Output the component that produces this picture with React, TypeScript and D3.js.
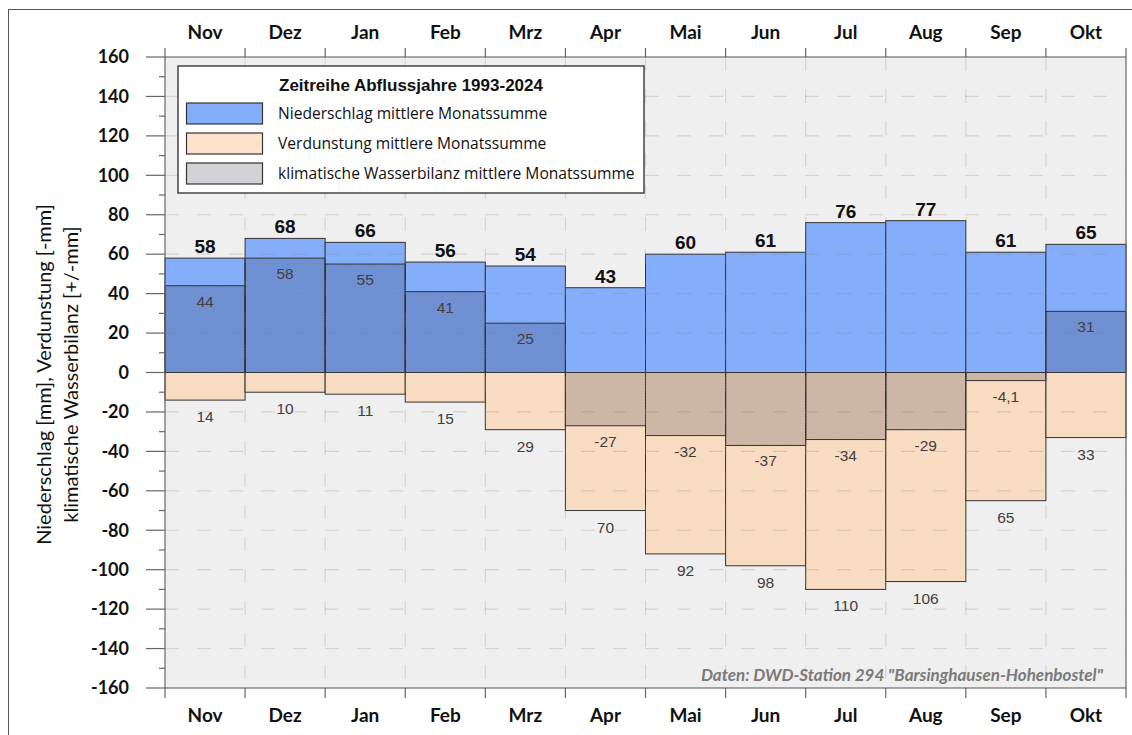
import React from "react";
import * as d3 from "d3";

const months = ["Nov", "Dez", "Jan", "Feb", "Mrz", "Apr", "Mai", "Jun", "Jul", "Aug", "Sep", "Okt"];
const niederschlag = [58, 68, 66, 56, 54, 43, 60, 61, 76, 77, 61, 65];
const verdunstung = [14, 10, 11, 15, 29, 70, 92, 98, 110, 106, 65, 33];
const wasserbilanz = [44, 58, 55, 41, 25, -27, -32, -37, -34, -29, -4.1, 31];
const yTicks = [160, 140, 120, 100, 80, 60, 40, 20, 0, -20, -40, -60, -80, -100, -120, -140, -160];
const legendTitle = "Zeitreihe Abflussjahre 1993-2024";
const legendItems = [
  "Niederschlag mittlere Monatssumme",
  "Verdunstung mittlere Monatssumme",
  "klimatische Wasserbilanz mittlere Monatssumme",
];

const W = 1132;
const H = 735;
const left = 165;
const right = 1126;
const top = 57;
const bottom = 688;

const calibri = "Lato, 'Open Sans', sans-serif";
const arial = "'Liberation Sans', Arial, sans-serif";
const segoe = "'Open Sans', 'Noto Sans', sans-serif";

const fmt = (v: number) => (Number.isInteger(v) ? String(v) : String(v).replace(".", ","));

export default function App() {
  const x = d3.scaleBand<string>().domain(months).range([left, right]).padding(0);
  const y = d3.scaleLinear().domain([-160, 160]).range([bottom, top]);
  const bw = x.bandwidth();
  const minorTicks = d3.range(-150, 160, 20);
  const boundaries = d3.range(0, months.length + 1).map((i) => left + i * bw);

  return (
    <svg width={W} height={H} style={{ position: "absolute", left: 0, top: 0, display: "block" }}>
      <defs>
        <pattern id="hatch" patternUnits="userSpaceOnUse" width={3} height={3}>
          <rect width={3} height={3} fill="rgba(30,30,50,0.18)" />
          <path d="M-1,1 l2,-2 M0,3 l3,-3 M2,4 l2,-2" stroke="rgba(0,0,0,0.07)" strokeWidth={0.8} />
        </pattern>
      </defs>
      <rect x={0} y={0} width={W} height={H} fill="#ffffff" />
      <rect x={8.5} y={9.5} width={1130} height={740} fill="none" stroke="#555" strokeWidth={1} />

      {/* plot background */}
      <rect x={left} y={top} width={right - left} height={bottom - top} fill="#efefef" />

      {/* niederschlag bars */}
      {months.map((m, i) => (
        <rect
          key={"p" + m}
          x={x(m)}
          y={y(niederschlag[i])}
          width={bw}
          height={y(0) - y(niederschlag[i])}
          fill="#84adfa"
          stroke="#333"
          strokeWidth={1}
        />
      ))}
      {/* verdunstung bars */}
      {months.map((m, i) => (
        <rect
          key={"e" + m}
          x={x(m)}
          y={y(0)}
          width={bw}
          height={y(-verdunstung[i]) - y(0)}
          fill="#f8dcc2"
          stroke="#333"
          strokeWidth={1}
        />
      ))}
      {/* wasserbilanz bars */}
      {months.map((m, i) => {
        const v = wasserbilanz[i];
        return (
          <rect
            key={"k" + m}
            x={x(m)}
            y={Math.min(y(v), y(0))}
            width={bw}
            height={Math.abs(y(v) - y(0))}
            fill="url(#hatch)"
            stroke="#333"
            strokeWidth={1}
          />
        );
      })}

      {/* gridlines */}
      {yTicks
        .filter((t) => t !== 160 && t !== -160 && t !== 0)
        .map((t) => (
          <line
            key={"g" + t}
            x1={left}
            x2={right}
            y1={y(t)}
            y2={y(t)}
            stroke="rgba(130,130,130,0.25)"
            strokeWidth={1.2}
            strokeDasharray="14,18"
          />
        ))}
      {boundaries.slice(1, -1).map((bx, i) => (
        <line
          key={"vg" + i}
          x1={bx}
          x2={bx}
          y1={top}
          y2={bottom}
          stroke="rgba(130,130,130,0.25)"
          strokeWidth={1.2}
          strokeDasharray="14,18"
        />
      ))}

      {/* zero line */}
      <line x1={left} x2={right} y1={y(0)} y2={y(0)} stroke="#333" strokeWidth={1} />

      {/* axes */}
      <line x1={left} x2={left} y1={top - 9} y2={bottom + 10} stroke="#666" strokeWidth={1.2} />
      <line x1={right} x2={right} y1={top - 9} y2={bottom + 10} stroke="#666" strokeWidth={1.2} />
      <line x1={left} x2={right} y1={top} y2={top} stroke="#555" strokeWidth={1.2} />
      <line x1={left} x2={right} y1={bottom} y2={bottom} stroke="#555" strokeWidth={1.2} />
      {boundaries.slice(1, -1).map((bx, i) => (
        <g key={"bt" + i}>
          <line x1={bx} x2={bx} y1={top - 9} y2={top} stroke="#666" strokeWidth={1.2} />
          <line x1={bx} x2={bx} y1={bottom} y2={bottom + 10} stroke="#666" strokeWidth={1.2} />
        </g>
      ))}
      {yTicks.map((t) => (
        <g key={"yt" + t}>
          <line x1={left - 19} x2={left} y1={y(t)} y2={y(t)} stroke="#666" strokeWidth={1.2} />
          <text
            x={129}
            y={y(t)}
            dy="0.35em"
            textAnchor="end"
            fontFamily={calibri}
            fontWeight="bold"
            fontSize={18}
            fill="#111"
          >
            {t}
          </text>
        </g>
      ))}
      {minorTicks.map((t) => (
        <line key={"mt" + t} x1={left - 6} x2={left} y1={y(t)} y2={y(t)} stroke="#666" strokeWidth={1.2} />
      ))}

      {/* month labels */}
      {months.map((m) => (
        <g key={"ml" + m}>
          <text
            x={(x(m) as number) + bw / 2}
            y={39}
            textAnchor="middle"
            fontFamily={calibri}
            fontWeight="bold"
            fontSize={19}
            fill="#111"
          >
            {m}
          </text>
          <text
            x={(x(m) as number) + bw / 2}
            y={722}
            textAnchor="middle"
            fontFamily={calibri}
            fontWeight="bold"
            fontSize={19}
            fill="#111"
          >
            {m}
          </text>
        </g>
      ))}

      {/* value labels */}
      {months.map((m, i) => {
        const cx = (x(m) as number) + bw / 2;
        const k = wasserbilanz[i];
        return (
          <g key={"vl" + m}>
            <text
              x={cx}
              y={y(niederschlag[i]) - 5}
              textAnchor="middle"
              fontFamily={arial}
              fontWeight="bold"
              fontSize={19}
              fill="#111"
            >
              {niederschlag[i]}
            </text>
            <text
              x={cx}
              y={y(-verdunstung[i]) + 22}
              textAnchor="middle"
              fontFamily={arial}
              fontSize={15.5}
              fill="#404040"
            >
              {verdunstung[i]}
            </text>
            <text x={cx} y={y(k) + 21} textAnchor="middle" fontFamily={arial} fontSize={15.5} fill="#404040">
              {fmt(k)}
            </text>
          </g>
        );
      })}

      {/* legend */}
      <g>
        <rect x={178} y={66} width={466} height={127} fill="#ffffff" stroke="#444" strokeWidth={1.5} />
        <text x={411} y={91} textAnchor="middle" fontFamily={arial} fontWeight="bold" fontSize={17} fill="#111">
          {legendTitle}
        </text>
        {legendItems.map((label, i) => (
          <g key={"lg" + i}>
            <rect
              x={186.5}
              y={103 + i * 30}
              width={76}
              height={21}
              fill={i === 0 ? "#84adfa" : i === 1 ? "#fde3cc" : "url(#hatch)"}
              stroke="#333"
              strokeWidth={1.2}
            />
            <text x={278} y={113.5 + i * 30} dy="0.35em" fontFamily={segoe} fontSize={15.6} fill="#111">
              {label}
            </text>
          </g>
        ))}
      </g>

      {/* footer */}
      <text
        x={1103}
        y={681}
        textAnchor="end"
        fontFamily={calibri}
        fontWeight="bold"
        fontStyle="italic"
        fontSize={17}
        fill="#7a7a7a"
      >
        Daten: DWD-Station 294 "Barsinghausen-Hohenbostel"
      </text>

      {/* y-axis title */}
      <g transform={`translate(51, ${y(0) + 2}) rotate(-90)`}>
        <text textAnchor="middle" fontFamily={calibri} fontSize={20} fill="#111">
          Niederschlag [mm], Verdunstung [-mm]
        </text>
        <text y={27} textAnchor="middle" fontFamily={calibri} fontSize={20} fill="#111">
          klimatische Wasserbilanz [+/-mm]
        </text>
      </g>
    </svg>
  );
}
